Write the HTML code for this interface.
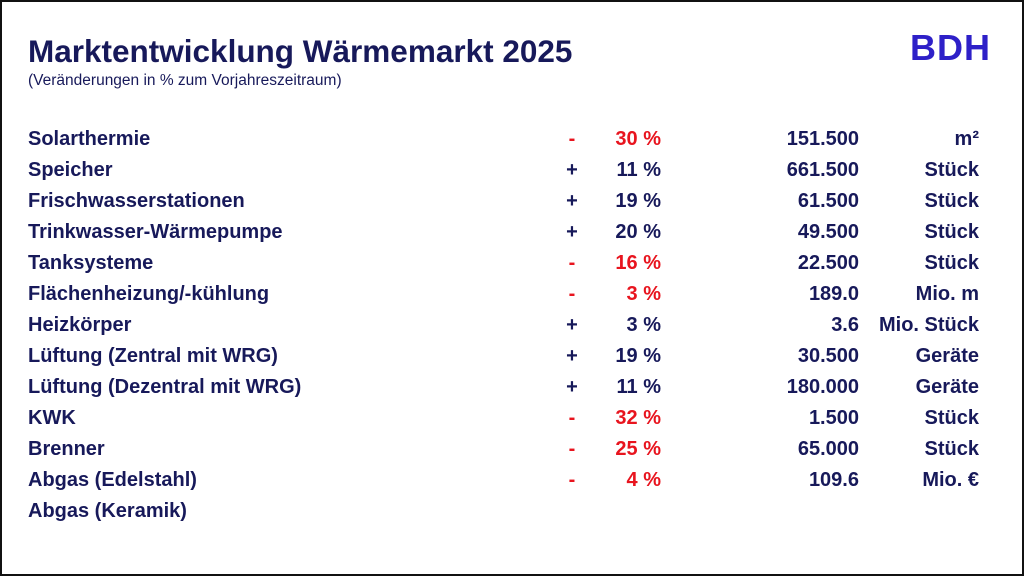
<!DOCTYPE html>
<html><head><meta charset="utf-8"><style>
body{margin:0;width:1024px;height:576px;overflow:hidden;background:#fff;font-family:"Liberation Sans",Arial,sans-serif;}
.frame{position:absolute;left:0;top:0;width:1020px;height:572px;border:2px solid #111;}
.t{position:absolute;left:28px;top:33px;font-size:31.5px;font-weight:bold;color:#17195a;white-space:nowrap;}
.s{position:absolute;left:28px;top:72px;font-size:15.5px;color:#17195a;white-space:nowrap;}
.logo{position:absolute;left:910px;top:27px;font-size:36px;font-weight:bold;color:#2e20c8;letter-spacing:1px;}
.r{position:absolute;left:0;width:1024px;height:24px;font-size:20px;font-weight:bold;color:#17195a;}
.r span{position:absolute;top:0;white-space:nowrap;}
.l{left:28px}
.g{left:560px;width:24px;text-align:center}
.p{right:363px;text-align:right}
.v{right:165px;text-align:right}
.u{right:45px;text-align:right}
.red .g,.red .p{color:#e8141e}
</style></head><body>
<div class="frame"></div>
<div class="t">Marktentwicklung Wärmemarkt 2025</div>
<div class="s">(Veränderungen in % zum Vorjahreszeitraum)</div>
<div class="logo">BDH</div>
<div class="r red" style="top:128px"><span class="l">Solarthermie</span><span class="g">-</span><span class="p">30 %</span><span class="v">151.500</span><span class="u">m²</span></div>
<div class="r" style="top:159px"><span class="l">Speicher</span><span class="g">+</span><span class="p">11 %</span><span class="v">661.500</span><span class="u">Stück</span></div>
<div class="r" style="top:190px"><span class="l">Frischwasserstationen</span><span class="g">+</span><span class="p">19 %</span><span class="v">61.500</span><span class="u">Stück</span></div>
<div class="r" style="top:221px"><span class="l">Trinkwasser-Wärmepumpe</span><span class="g">+</span><span class="p">20 %</span><span class="v">49.500</span><span class="u">Stück</span></div>
<div class="r red" style="top:252px"><span class="l">Tanksysteme</span><span class="g">-</span><span class="p">16 %</span><span class="v">22.500</span><span class="u">Stück</span></div>
<div class="r red" style="top:283px"><span class="l">Flächenheizung/-kühlung</span><span class="g">-</span><span class="p">3 %</span><span class="v">189.0</span><span class="u">Mio. m</span></div>
<div class="r" style="top:314px"><span class="l">Heizkörper</span><span class="g">+</span><span class="p">3 %</span><span class="v">3.6</span><span class="u">Mio. Stück</span></div>
<div class="r" style="top:345px"><span class="l">Lüftung (Zentral mit WRG)</span><span class="g">+</span><span class="p">19 %</span><span class="v">30.500</span><span class="u">Geräte</span></div>
<div class="r" style="top:376px"><span class="l">Lüftung (Dezentral mit WRG)</span><span class="g">+</span><span class="p">11 %</span><span class="v">180.000</span><span class="u">Geräte</span></div>
<div class="r red" style="top:407px"><span class="l">KWK</span><span class="g">-</span><span class="p">32 %</span><span class="v">1.500</span><span class="u">Stück</span></div>
<div class="r red" style="top:438px"><span class="l">Brenner</span><span class="g">-</span><span class="p">25 %</span><span class="v">65.000</span><span class="u">Stück</span></div>
<div class="r red" style="top:469px"><span class="l">Abgas (Edelstahl)</span><span class="g">-</span><span class="p">4 %</span><span class="v">109.6</span><span class="u">Mio. €</span></div>
<div class="r" style="top:500px"><span class="l">Abgas (Keramik)</span></div>
</body></html>
